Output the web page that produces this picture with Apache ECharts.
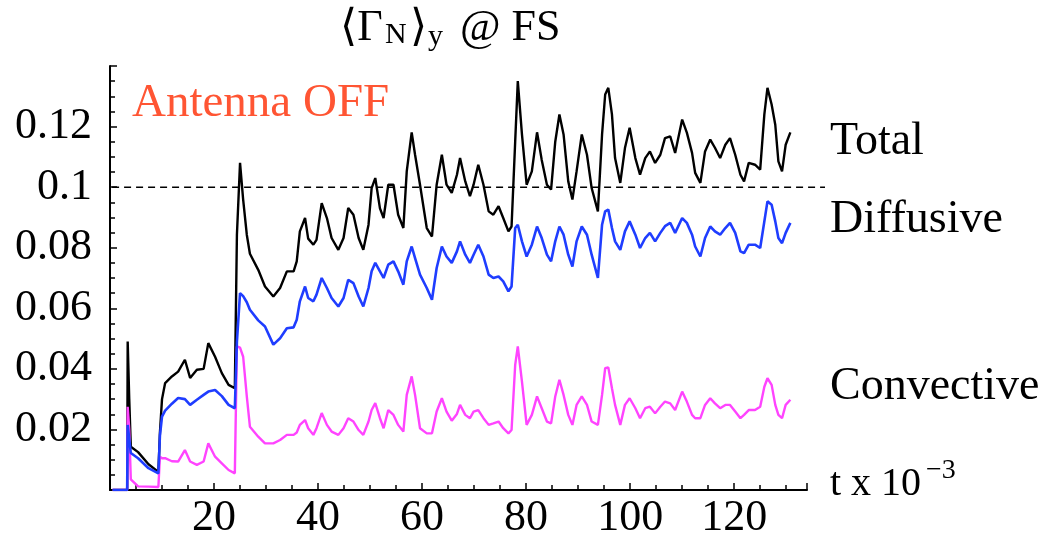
<!DOCTYPE html>
<html lang="en">
<head>
<meta charset="UTF-8">
<title>Gamma_N at FS</title>
<script src="https://cdn.jsdelivr.net/npm/echarts@6/dist/echarts.min.js"></script>
<style>
    html, body { margin: 0; padding: 0; background: #fff; }
    #main { width: 1050px; height: 543px; }
</style>
</head>
<body>
<div id="main"></div>
<script>
// time, t x 10^-3
var tVals = [0.5, 3.3, 3.4, 3.7, 4.0, 5.4, 7.4, 9.3, 9.6, 10.0,
    10.6, 11.9, 13.1, 14.4, 15.4, 16.7, 18.0, 18.9, 20.2, 21.5,
    22.8, 24.0, 24.3, 24.4, 25.0, 25.6, 26.3, 26.9, 28.5, 29.8,
    31.4, 32.7, 34.0, 35.3, 35.9, 36.5, 37.5, 38.1, 39.1, 39.7,
    40.7, 41.7, 42.6, 43.9, 44.9, 45.8, 46.8, 47.8, 48.7, 49.7,
    50.3, 51.0, 51.9, 52.6, 53.5, 54.5, 55.4, 56.4, 57.05, 58.0,
    58.65, 59.6, 60.9, 61.9, 62.8, 63.8, 64.7, 65.7, 66.7, 67.3,
    68.3, 69.2, 69.9, 70.8, 71.8, 72.8, 73.7, 74.7, 75.6, 76.6,
    77.2, 77.9, 78.4, 79.2, 80.1, 81.1, 82.1, 83.0, 84.0, 84.8,
    85.6, 86.4, 87.2, 88.1, 88.9, 89.7, 90.7, 91.7, 92.6, 93.8,
    94.6, 95.2, 95.8, 96.5, 97.1, 98.1, 99.0, 99.9, 101.0, 101.9,
    102.9, 103.8, 104.8, 105.8, 106.7, 107.7, 108.65, 110.0, 110.9, 111.9,
    112.5, 113.5, 114.4, 115.4, 116.3, 117.3, 118.3, 119.2, 120.2, 121.2,
    121.9, 122.8, 124.0, 125.0, 125.8, 126.4, 127.2, 127.9, 128.5, 129.2,
    129.9, 130.8];

var totalVals = [0, 0, 0.049, 0.030, 0.0143, 0.0125, 0.0085, 0.006, 0.019, 0.030,
    0.0353, 0.0375, 0.0391, 0.043, 0.037, 0.0397, 0.040, 0.0485, 0.044, 0.0386,
    0.0347, 0.0336, 0.034, 0.0843, 0.108, 0.0959, 0.0843, 0.078, 0.0727, 0.0672,
    0.0639, 0.0667, 0.0722, 0.0722, 0.0755, 0.0854, 0.0898, 0.083, 0.081, 0.0826,
    0.0947, 0.0898, 0.0832, 0.0793, 0.0832, 0.0931, 0.0909, 0.0832, 0.0793, 0.0876,
    0.0997, 0.103, 0.093, 0.0898, 0.1008, 0.1008, 0.0909, 0.0865, 0.1052, 0.1181,
    0.1107, 0.1008, 0.0865, 0.0837, 0.1008, 0.1107, 0.1008, 0.0981, 0.1041, 0.1096,
    0.1019, 0.097, 0.1008, 0.1074, 0.1008, 0.092, 0.0909, 0.0937, 0.0898, 0.0854,
    0.087, 0.1151, 0.135, 0.1174, 0.1008, 0.1052, 0.1181, 0.109, 0.1008, 0.0992,
    0.115, 0.124, 0.1174, 0.1019, 0.0959, 0.1052, 0.1174, 0.1107, 0.0997, 0.092,
    0.1174, 0.1306, 0.1328, 0.124, 0.1096, 0.1014, 0.1129, 0.1196, 0.1096, 0.1041,
    0.1096, 0.1118, 0.108, 0.1107, 0.1162, 0.1168, 0.1113, 0.1223, 0.118, 0.1113,
    0.1047, 0.1014, 0.1118, 0.1157, 0.113, 0.1096, 0.114, 0.1162, 0.1107, 0.1041,
    0.1019, 0.108, 0.1074, 0.1058, 0.124, 0.1328, 0.1273, 0.1206, 0.1085, 0.1052,
    0.114, 0.1181];

var diffusiveVals = [0, 0, 0.0215, 0.0215, 0.0122, 0.0105, 0.0072, 0.0055, 0.018, 0.0242,
    0.0262, 0.0285, 0.0304, 0.030, 0.0281, 0.0298, 0.0314, 0.0325, 0.033, 0.031,
    0.0281, 0.027, 0.027, 0.049, 0.065, 0.064, 0.062, 0.0595, 0.056, 0.054,
    0.048, 0.0501, 0.0534, 0.0537, 0.0562, 0.0623, 0.0672, 0.0634, 0.0623, 0.0645,
    0.070, 0.0667, 0.0634, 0.0606, 0.0634, 0.0694, 0.0683, 0.0639, 0.0606, 0.0667,
    0.0722, 0.075, 0.0722, 0.070, 0.0744, 0.0755, 0.0722, 0.0678, 0.0755, 0.0804,
    0.0766, 0.0711, 0.0667, 0.0628, 0.0733, 0.0804, 0.0771, 0.075, 0.0788, 0.0821,
    0.0777, 0.075, 0.0777, 0.081, 0.0771, 0.0711, 0.070, 0.0705, 0.0689, 0.0656,
    0.0672, 0.0865, 0.0876, 0.0821, 0.0771, 0.081, 0.087, 0.0832, 0.0777, 0.0755,
    0.0821, 0.087, 0.0843, 0.0777, 0.0738, 0.0821, 0.087, 0.0843, 0.0777, 0.070,
    0.0876, 0.092, 0.0926, 0.0865, 0.0821, 0.0793, 0.0854, 0.0887, 0.0843, 0.0799,
    0.0832, 0.0849, 0.0821, 0.0849, 0.0871, 0.0882, 0.0849, 0.0898, 0.0882, 0.0843,
    0.0804, 0.0771, 0.0832, 0.087, 0.0854, 0.0843, 0.0865, 0.0882, 0.0849, 0.0788,
    0.0782, 0.081, 0.081, 0.0799, 0.0887, 0.0953, 0.0942, 0.0887, 0.0832, 0.0815,
    0.0849, 0.0882];

var convectiveVals = [0, 0, 0.0275, 0.020, 0.0035, 0.0012, 0.0011, 0.001, 0.011, 0.0105,
    0.0105, 0.0095, 0.0094, 0.0132, 0.0094, 0.0083, 0.0094, 0.0154, 0.011, 0.0088,
    0.0066, 0.0055, 0.006, 0.0474, 0.047, 0.044, 0.0309, 0.0209, 0.0176, 0.0154,
    0.0154, 0.0165, 0.0182, 0.0182, 0.019, 0.0215, 0.0231, 0.0204, 0.0182, 0.0204,
    0.0254, 0.0215, 0.0193, 0.0182, 0.0204, 0.0237, 0.0226, 0.0198, 0.0182, 0.0226,
    0.0264, 0.0287, 0.0237, 0.0204, 0.0264, 0.0248, 0.0215, 0.0193, 0.0314, 0.0375,
    0.0314, 0.0204, 0.0187, 0.0187, 0.0259, 0.0303, 0.0259, 0.0229, 0.0251, 0.0281,
    0.0248, 0.0237, 0.0259, 0.0264, 0.0237, 0.0215, 0.022, 0.0226, 0.0204, 0.0187,
    0.0198, 0.0413, 0.0474, 0.0358, 0.0215, 0.0248, 0.0309, 0.027, 0.0226, 0.022,
    0.0309, 0.0364, 0.0314, 0.0248, 0.0215, 0.0281, 0.0309, 0.0281, 0.0226, 0.0215,
    0.0314, 0.0402, 0.0405, 0.0336, 0.0281, 0.0215, 0.0281, 0.0303, 0.027, 0.0237,
    0.027, 0.0275, 0.0253, 0.0275, 0.0292, 0.0286, 0.0264, 0.0325, 0.0292, 0.0248,
    0.0237, 0.0237, 0.0281, 0.0303, 0.0286, 0.027, 0.0281, 0.0281, 0.0259, 0.0237,
    0.0248, 0.0264, 0.0264, 0.0275, 0.0341, 0.0369, 0.0347, 0.0281, 0.0248, 0.0237,
    0.0281, 0.0298];

var yTickLabels = ['0.02', '0.04', '0.06', '0.08', '0.1', '0.12'];
var xTickLabels = ['20', '40', '60', '80', '100', '120'];
var refLevel = 0.1;
var refSpan = [0.4, 137.5];

var serif = '"Liberation Serif", "DejaVu Serif", serif';

function pairs(vals) {
    return tVals.map(function (t, i) { return [t, vals[i]]; });
}

var chart = echarts.init(document.getElementById('main'));

var tickStyle = { color: '#000', width: 1.5 };

var option = {
    animation: false,
    backgroundColor: '#fff',
    grid: [
        { left: 110, right: 243, top: 66, bottom: 53 },
        // wider box for the dashed 0.1 level, which runs past the t axis
        { left: 110, right: 225, top: 66, bottom: 53 }
    ],
    xAxis: [{
        type: 'value',
        gridIndex: 0,
        min: 0,
        max: 134,
        interval: 20,
        axisLine: { lineStyle: { color: '#000', width: 2 } },
        axisTick: { inside: true, length: 7, lineStyle: tickStyle },
        minorTick: { show: true, splitNumber: 4, length: 5, lineStyle: tickStyle },
        splitLine: { show: false },
        axisLabel: {
            margin: 6,
            color: '#000',
            fontFamily: serif,
            fontSize: 44,
            formatter: function (v) {
                var s = String(v);
                return xTickLabels.indexOf(s) >= 0 ? s : '';
            }
        }
    }, {
        type: 'value',
        gridIndex: 1,
        min: 0,
        max: refSpan[1],
        show: false
    }],
    yAxis: [{
        type: 'value',
        gridIndex: 0,
        min: 0,
        max: 0.14,
        interval: 0.02,
        axisLine: { lineStyle: { color: '#000', width: 2 } },
        axisTick: { inside: true, length: 7, lineStyle: tickStyle },
        minorTick: { show: true, splitNumber: 4, length: 5, lineStyle: tickStyle },
        splitLine: { show: false },
        axisLabel: {
            margin: 18,
            color: '#000',
            fontFamily: serif,
            fontSize: 44,
            formatter: function (v) {
                var s = String(parseFloat(v.toFixed(3)));
                return yTickLabels.indexOf(s) >= 0 ? s : '';
            }
        }
    }, {
        type: 'value',
        gridIndex: 1,
        min: 0,
        max: 0.14,
        show: false
    }],
    series: [
        {
            name: 'ref',
            type: 'line',
            xAxisIndex: 1,
            yAxisIndex: 1,
            data: [[refSpan[0], refLevel], [refSpan[1], refLevel]],
            showSymbol: false,
            silent: true,
            lineStyle: { color: '#000', width: 1.5, type: [7, 5] },
            z: 1
        },
        {
            name: 'Total',
            type: 'line',
            data: pairs(totalVals),
            showSymbol: false,
            lineStyle: { color: '#000', width: 2.4 },
            z: 2
        },
        {
            name: 'Convective',
            type: 'line',
            data: pairs(convectiveVals),
            showSymbol: false,
            lineStyle: { color: '#ff44ff', width: 2.4 },
            z: 3
        },
        {
            name: 'Diffusive',
            type: 'line',
            data: pairs(diffusiveVals),
            showSymbol: false,
            lineStyle: { color: '#1f3dff', width: 2.6 },
            z: 4
        }
    ],
    graphic: [
        // title <Gamma_N>_y @ FS
        { type: 'text', left: 340, top: 6, style: { text: '\u27E8\u0393', font: '44px ' + serif, fill: '#000' } },
        { type: 'text', left: 385, top: 20, style: { text: 'N', font: '30px ' + serif, fill: '#000' } },
        { type: 'text', left: 410, top: 6, style: { text: '\u27E9', font: '44px ' + serif, fill: '#000' } },
        { type: 'text', left: 428, top: 22, style: { text: 'y', font: '30px ' + serif, fill: '#000' } },
        { type: 'text', left: 460, top: 6, style: { text: '@ FS', font: '44px ' + serif, fill: '#000' } },
        { type: 'text', left: 132, top: 80, style: { text: 'Antenna OFF', font: '47px ' + serif, fill: '#ff5533' } },
        { type: 'text', left: 830, top: 119, style: { text: 'Total', font: '46px ' + serif, fill: '#000' } },
        { type: 'text', left: 830, top: 197, style: { text: 'Diffusive', font: '46px ' + serif, fill: '#000' } },
        { type: 'text', left: 830, top: 364, style: { text: 'Convective', font: '46px ' + serif, fill: '#000' } },
        { type: 'text', left: 830, top: 464, style: { text: 't x 10', font: '40px ' + serif, fill: '#000' } },
        { type: 'text', left: 926, top: 457, style: { text: '\u22123', font: '28px ' + serif, fill: '#000' } }
    ]
};

chart.setOption(option);
</script>
</body>
</html>
